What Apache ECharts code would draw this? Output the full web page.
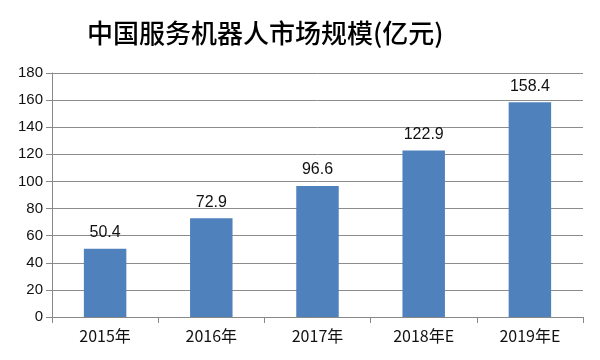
<!DOCTYPE html>
<html><head><meta charset="utf-8">
<script src="https://cdn.jsdelivr.net/npm/echarts@6/dist/echarts.min.js"></script>
<style>html,body{margin:0;padding:0;background:#fff}#c{width:600px;height:360px}</style>
</head><body><div id="c"></div>
<script>
const categories = ['2015年','2016年','2017年','2018年E','2019年E'];
const values = [50.4, 72.9, 96.6, 122.9, 158.4];
const titleText = '中国服务机器人市场规模(亿元)';
const chart = echarts.init(document.getElementById('c'));
chart.setOption({
  animation: false,
  backgroundColor: '#fff',
  title: {
    text: titleText, left: 82, top: 15,
    textStyle: {fontFamily: 'Noto Sans CJK SC', fontSize: 26, fontWeight: 500, color: '#000'}
  },
  grid: {left: 52, right: 17, top: 73, bottom: 43},
  xAxis: {
    type: 'category', data: categories,
    axisLine: {lineStyle: {color: '#888'}},
    axisTick: {show: true, length: 6, lineStyle: {color: '#888'}},
    axisLabel: {color: '#111', fontSize: 16, fontFamily: 'Noto Sans CJK SC', margin: 11}
  },
  yAxis: {
    type: 'value', min: 0, max: 180, interval: 20,
    axisLine: {show: true, lineStyle: {color: '#888'}},
    axisTick: {show: true, length: 6, lineStyle: {color: '#888'}},
    splitLine: {lineStyle: {color: '#8c8c8c'}},
    axisLabel: {color: '#111', fontSize: 15, fontFamily: 'Liberation Sans', margin: 9}
  },
  series: [{
    type: 'bar', data: values, barWidth: '40%',
    itemStyle: {color: '#4F81BD'},
    label: {show: true, position: 'top', distance: 8, color: '#111', fontSize: 16, fontFamily: 'Liberation Sans'}
  }]
});
</script></body></html>
